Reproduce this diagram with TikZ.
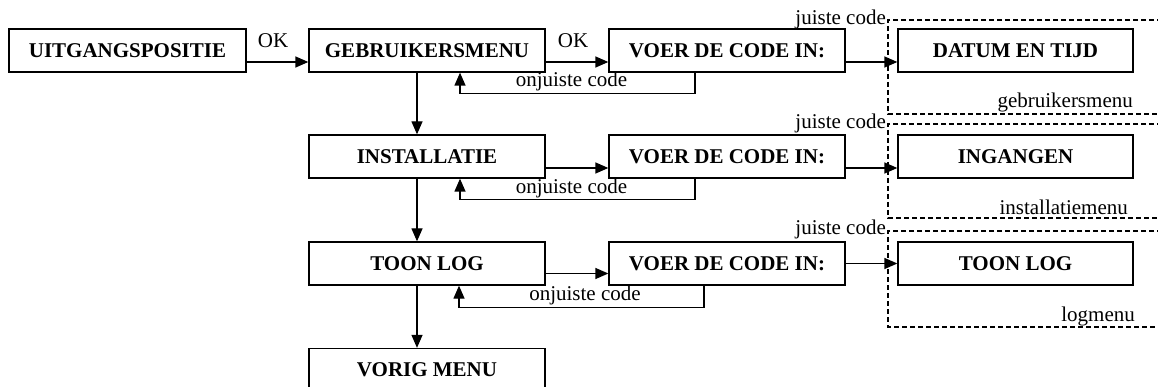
\documentclass[tikz,border=0pt]{standalone}
\usepackage{fontspec}
\setmainfont{Liberation Serif}
\usetikzlibrary{arrows.meta,calc}
\begin{document}
\begin{tikzpicture}[x=1pt,y=-1pt,
  box/.style={draw, line width=1.3pt, minimum width=236pt, minimum height=43pt, inner sep=0pt, font=\fontsize{21}{25}\selectfont\bfseries},
  lbl/.style={inner sep=0pt, font=\fontsize{21}{25}\selectfont},
  arr/.style={line width=1.3pt, -{Triangle[length=13pt,width=11pt]}},
  grp/.style={line width=1.5pt, dash pattern=on 5pt off 3pt}]
\useasboundingbox (0,0) rectangle (1158,387);
\clip (0,0) rectangle (1158,387);
% group frames
\draw[grp] (1170,20) -- (888,20) -- (888,114) -- (1170,114);
\draw[grp] (1170,124) -- (888,124) -- (888,218) -- (1170,218);
\draw[grp] (1170,231) -- (888,231) -- (888,327) -- (1170,327);
% boxes
\node[box, minimum width=237pt] (uit) at (127.5,50.5) {UITGANGSPOSITIE};
\node[box] (geb) at (427,50.5) {GEBRUIKERSMENU};
\node[box] (voer1) at (727,50.5) {VOER DE CODE IN:};
\node[box, minimum width=235pt] (datum) at (1015.5,50.5) {DATUM EN TIJD};
\node[box] (inst) at (427,156.5) {INSTALLATIE};
\node[box] (voer2) at (727,156.5) {VOER DE CODE IN:};
\node[box, minimum width=235pt] (ing) at (1015.5,156.5) {INGANGEN};
\node[box] (toon) at (427,263.5) {TOON LOG};
\node[box] (voer3) at (727,263.5) {VOER DE CODE IN:};
\node[box, minimum width=235pt] (toon2) at (1015.5,263.5) {TOON LOG};
\node[box] (vorig) at (427,370) {VORIG MENU};
% labels
\node[lbl] (ok1) at (273,41) {OK};
\node[lbl] (ok2) at (573,41) {OK};
\node[lbl, anchor=base] (on1) at (571.5,87) {onjuiste code};
\node[lbl, anchor=base] (on2) at (571.5,193.5) {onjuiste code};
\node[lbl, anchor=base] (on3) at (585,300) {onjuiste code};
\node[lbl, anchor=base east] (ju1) at (886,25) {juiste code};
\node[lbl, anchor=base east] (ju2) at (886,129) {juiste code};
\node[lbl, anchor=base east] (ju3) at (886,235) {juiste code};
\node[lbl, anchor=base east] (m1) at (1133,108) {gebruikersmenu};
\node[lbl, anchor=base east] (m2) at (1128,214.5) {installatiemenu};
\node[lbl, anchor=base east] (m3) at (1135,321) {logmenu};
% horizontal arrows
\draw[arr] ([yshift=-11.5pt]uit.east) -- ([yshift=-11.5pt]geb.west);
\draw[arr] ([yshift=-11.5pt]geb.east) -- ([yshift=-11.5pt]voer1.west);
\draw[arr] ([yshift=-11.5pt]voer1.east) -- ([yshift=-11.5pt]datum.west);
\draw[arr] ([yshift=-11.5pt]inst.east) -- ([yshift=-11.5pt]voer2.west);
\draw[arr] ([yshift=-11.5pt]voer2.east) -- ([yshift=-11.5pt]ing.west);
\draw[arr] ([yshift=-10pt]toon.east) -- ([yshift=-10pt]voer3.west);
\draw[arr] (voer3.east) -- (toon2.west);
% vertical arrows
\draw[arr] ([xshift=-10pt]geb.south) -- ([xshift=-10pt]inst.north);
\draw[arr] ([xshift=-10pt]inst.south) -- ([xshift=-10pt]toon.north);
\draw[arr] ([xshift=-10pt]toon.south) -- ([xshift=-10pt]vorig.north);
% feedback loops
\draw[arr] ([xshift=-32pt]voer1.south) -- ++(0,21) -| ([xshift=33pt]geb.south);
\draw[arr] ([xshift=-32pt]voer2.south) -- ++(0,21) -| ([xshift=33pt]inst.south);
\draw[arr] ([xshift=-23pt]voer3.south) -- ++(0,22) -| ([xshift=32pt]toon.south);
\end{tikzpicture}
\end{document}
